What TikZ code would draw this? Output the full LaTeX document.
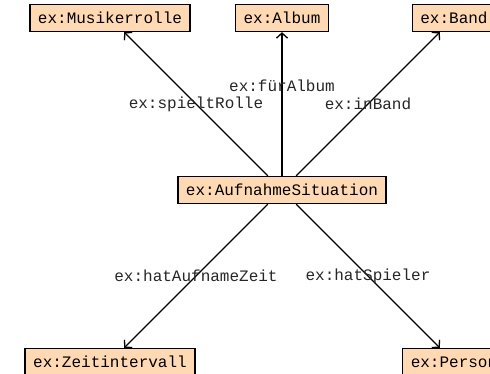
\documentclass[tikz,border=0pt]{standalone}
\usepackage{fontspec}
\setmonofont{Liberation Mono}
\usepackage{tikz}
\usetikzlibrary{
  arrows.meta,
  positioning
}
\definecolor{classpeach}{RGB}{255,217,179}

\begin{document}
\begin{tikzpicture}[
  x=1pt, y=-1pt,
  cls/.style={draw, line width=1.4pt, fill=classpeach, minimum height=27pt,
              inner xsep=8pt, font=\ttfamily\fontsize{16}{18}\selectfont},
  prop/.style={font=\ttfamily\fontsize{16}{18}\selectfont, text=black!85},
  arr/.style={-{Straight Barb[length=5pt, width=11pt]}, line width=1.3pt},
  on grid, node distance=172pt
]
  \clip (0,0) rectangle (490,374);

  % centre node
  \node[cls] (sit) at (282,190) {ex:AufnahmeSituation};

  % upper row
  \node[cls, above left=172pt and 172pt of sit] (rolle) {ex:Musikerrolle};
  \node[cls, above=of sit] (album) {ex:Album};
  \node[cls, above right=172pt and 172pt of sit] (band) {ex:Band};

  % lower row
  \node[cls, below left=172pt and 172pt of sit] (zeit) {ex:Zeitintervall};
  \node[cls, below right=172pt and 172pt of sit] (person) {ex:Person};

  % properties
  \draw[arr] (sit) -- (rolle) node[prop, pos=0.5] (prolle) {ex:spieltRolle};
  \draw[arr] (sit) -- (album) node[prop, pos=0.63] (palbum) {ex:fürAlbum};
  \draw[arr] (sit) -- (band) node[prop, pos=0.5] (pband) {ex:inBand};
  \draw[arr] (sit) -- (zeit) node[prop, pos=0.5] (pzeit) {ex:hatAufnameZeit};
  \draw[arr] (sit) -- (person) node[prop, pos=0.5] (pperson) {ex:hatSpieler};

\end{tikzpicture}
\end{document}
